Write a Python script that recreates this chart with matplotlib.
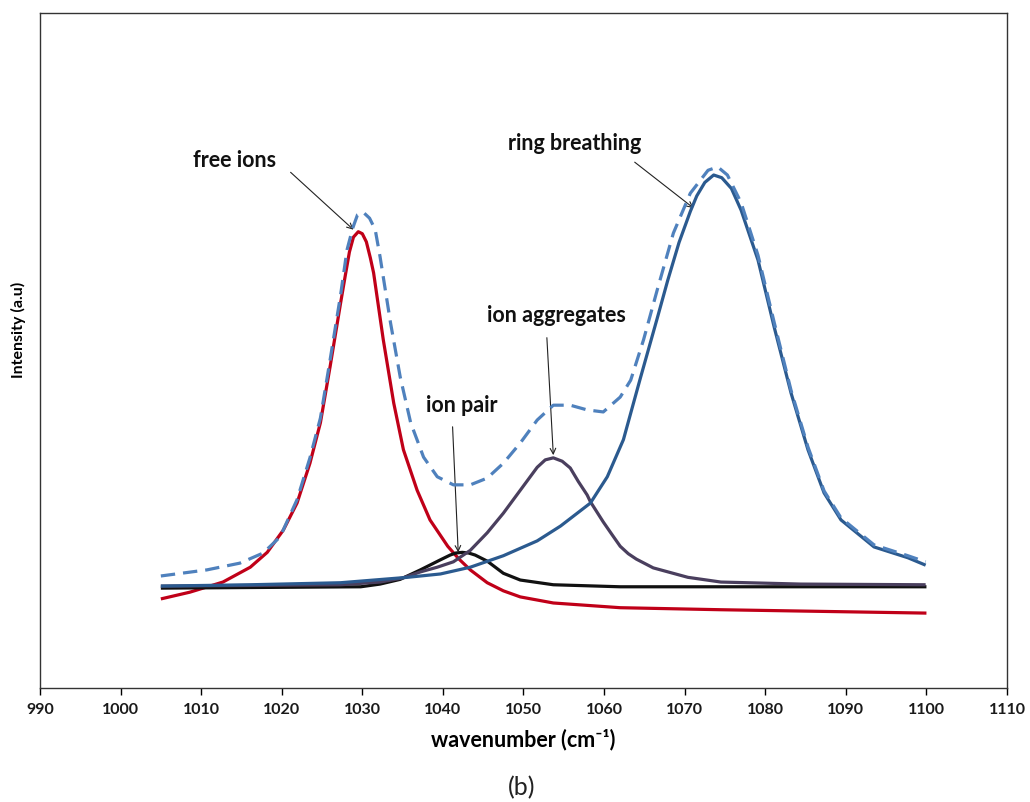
import numpy as np
import matplotlib.pyplot as plt

# ---------------------------
# IR band deconvolution, 990-1110 cm-1 region
# ---------------------------

# free ions component
wn_free = [1005.0, 1008.6, 1012.7, 1016.1, 1018.2, 1020.2, 1021.9, 1023.5, 1024.8, 1026.0,
           1027.3, 1027.9, 1028.4, 1028.9, 1029.5, 1030.0, 1030.5, 1031.0, 1031.4, 1032.6,
           1033.9, 1035.1, 1036.8, 1038.4, 1040.6, 1042.0, 1043.4, 1045.5, 1047.5, 1049.6,
           1053.7, 1062.0, 1074.5, 1100.0]
int_free = [13.2, 14.2, 15.7, 17.9, 20.1, 23.4, 27.4, 33.3, 39.3, 47.6,
            57.0, 61.2, 64.6, 66.8, 67.6, 67.3, 66.1, 63.7, 61.5, 51.6,
            42.2, 35.3, 29.3, 24.9, 21.0, 19.1, 17.5, 15.6, 14.4, 13.5,
            12.6, 11.9, 11.6, 11.1]

# ion pair component
wn_pair = [1005.0, 1029.8, 1032.2, 1034.7, 1037.2, 1039.7, 1040.9, 1041.6, 1042.4, 1043.2,
           1044.0, 1045.5, 1046.5, 1047.5, 1049.6, 1053.7, 1062.0, 1100.0]
int_pair = [14.8, 15.0, 15.4, 16.1, 17.5, 19.0, 19.7, 20.0, 20.1, 20.0,
            19.7, 18.8, 17.9, 17.0, 16.0, 15.3, 15.0, 15.0]

# ion aggregates component
wn_aggr = [1005.0, 1027.3, 1032.2, 1035.0, 1037.2, 1039.3, 1041.3, 1043.4, 1045.5, 1047.5,
           1049.6, 1051.7, 1052.7, 1053.7, 1054.8, 1055.8, 1056.8, 1057.9, 1058.3, 1059.9,
           1061.0, 1062.0, 1063.0, 1064.0, 1066.1, 1070.4, 1074.5, 1084.4, 1099.9]
int_aggr = [15.1, 15.3, 15.7, 16.3, 17.2, 17.9, 18.7, 20.4, 23.0, 25.9,
            29.3, 32.7, 33.8, 34.1, 33.6, 32.6, 30.6, 28.6, 27.6, 24.6,
            22.7, 21.0, 19.9, 19.1, 17.8, 16.4, 15.7, 15.4, 15.3]

# ring breathing component
wn_ring = [1005.0, 1016.1, 1027.3, 1035.6, 1039.7, 1043.4, 1047.5, 1051.7, 1054.6, 1058.3,
           1060.4, 1062.4, 1064.5, 1066.6, 1067.9, 1069.3, 1070.7, 1071.5, 1072.5, 1073.6,
           1074.6, 1075.8, 1077.0, 1079.1, 1081.1, 1083.2, 1085.3, 1087.3, 1089.4, 1093.5,
           1097.7, 1099.9]
int_ring = [15.1, 15.3, 15.6, 16.4, 16.9, 17.9, 19.6, 21.8, 24.0, 27.4,
            31.3, 36.8, 45.9, 54.8, 60.4, 66.0, 70.6, 72.9, 74.9, 76.0,
            75.6, 74.0, 70.8, 63.4, 53.5, 43.7, 35.3, 28.9, 24.9, 20.9,
            19.3, 18.2]

# cumulative fit
wn_sum = [1005.0, 1010.7, 1014.8, 1017.7, 1019.8, 1021.9, 1023.5, 1024.8, 1026.0, 1027.3,
          1028.1, 1028.8, 1029.4, 1030.1, 1030.9, 1031.6, 1032.2, 1033.5, 1034.7, 1036.0,
          1037.6, 1039.3, 1041.3, 1043.4, 1045.5, 1047.5, 1049.6, 1051.7, 1053.7, 1055.8,
          1057.9, 1059.9, 1062.0, 1063.3, 1064.9, 1066.6, 1068.6, 1070.7, 1072.9, 1074.1,
          1075.3, 1077.0, 1079.1, 1081.1, 1083.2, 1085.3, 1087.3, 1089.4, 1093.5, 1097.7,
          1099.9]
int_sum = [16.6, 17.5, 18.5, 20.0, 22.4, 27.9, 34.1, 40.0, 48.6, 58.2,
           64.9, 68.1, 70.1, 70.5, 69.6, 67.9, 63.9, 54.1, 46.1, 39.3,
           34.2, 31.3, 30.1, 30.1, 31.1, 33.3, 36.3, 39.7, 41.9, 41.9,
           41.2, 40.9, 43.1, 45.6, 51.6, 59.0, 67.4, 73.3, 76.7, 77.2,
           76.0, 71.9, 64.1, 54.2, 44.1, 35.7, 29.2, 25.2, 21.2, 19.6,
           18.7]

plt.rcParams['font.family'] = ['Lato', 'DejaVu Sans']
plt.rcParams['font.weight'] = 'bold'

fig = plt.figure(figsize=(10.30, 8.02), dpi=100)
ax = fig.add_axes([0.0388, 0.1421, 0.9389, 0.8417])

lw = 2.3
line_kw = dict(lw=lw, solid_joinstyle='round', solid_capstyle='butt')
ax.plot(wn_free, int_free, color='#c00018', zorder=2, **line_kw)
ax.plot(wn_pair, int_pair, color='#111111', zorder=3, **line_kw)
ax.plot(wn_aggr, int_aggr, color='#4a3f5e', zorder=3, **line_kw)
ax.plot(wn_ring, int_ring, color='#2b5a8f', zorder=4, **line_kw)
ax.plot(wn_sum, int_sum, color='#4f81bd', lw=lw, dashes=(4.5, 2.5),
        dash_joinstyle='round', zorder=5)

ax.set_xlim(990, 1110)
ax.set_ylim(0, 100)
ax.set_xticks(np.arange(990, 1111, 10))
ax.set_yticks([])
ax.tick_params(axis='x', direction='out', length=5, width=1, labelsize=11.5, pad=6,
               labelcolor='#1a1a1a')
for sp in ax.spines.values():
    sp.set_linewidth(1.0)
    sp.set_color('#333333')

ax.set_xlabel('wavenumber (cm\u207b\u00b9)', fontsize=15.5, fontweight='bold', labelpad=8)
fig.text(0.0175, 0.589, 'Intensity (a.u)', rotation=90, fontsize=11.5, fontweight='bold',
         ha='center', va='center')
fig.text(0.506, 0.0175, '(b)', fontsize=18, fontweight='normal', ha='center', va='center',
         color='#222222')

# peak labels with arrows
arrow = dict(arrowstyle='->', color='#222222', lw=0.8, shrinkA=0, shrinkB=0)
txt_kw = dict(fontsize=15.5, fontweight='bold', ha='center', va='center', color='#111111')
ax.annotate('', xy=(1028.9, 67.9), xytext=(1021.1, 76.4), arrowprops=arrow)
ax.text(1014.1, 78.2, 'free ions', **txt_kw)
ax.annotate('', xy=(1071.1, 71.1), xytext=(1063.8, 77.9), arrowprops=arrow)
ax.text(1056.3, 80.6, 'ring breathing', **txt_kw)
ax.annotate('', xy=(1053.7, 34.5), xytext=(1052.9, 51.9), arrowprops=arrow)
ax.text(1054.1, 55.2, 'ion aggregates', **txt_kw)
ax.annotate('', xy=(1041.9, 20.1), xytext=(1041.2, 38.7), arrowprops=arrow)
ax.text(1042.3, 41.8, 'ion pair', **txt_kw)

fig.savefig('out.png', dpi=100)
